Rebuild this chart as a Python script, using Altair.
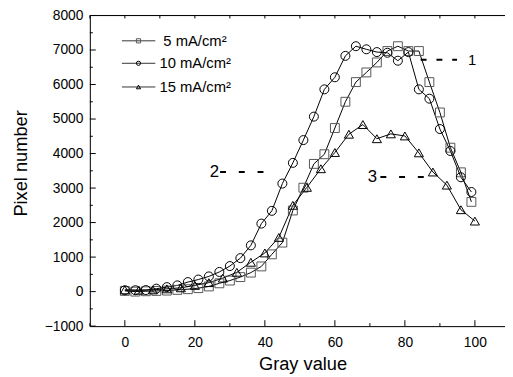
import altair as alt
import pandas as pd

FONT = "Liberation Sans"

# ---- data ----
series_names = ["5 mA/cm²", "10 mA/cm²", "15 mA/cm²"]

gray_sq = list(range(0, 100, 3))   # 5 mA/cm2 markers
ma5 = [20, 0, 10, 20, 30, 50, 70, 100, 150, 240, 320, 420, 550, 730, 1080, 1420,
       2350, 3010, 3700, 3980, 4740, 5500, 6070, 6350, 6640, 6970, 7110, 6970,
       6970, 6070, 5190, 4170, 3456, 2600]

gray_ci = list(range(0, 100, 3))   # 10 mA/cm2 markers
ma10 = [40, 40, 45, 85, 130, 180, 276, 350, 440, 570, 740, 970, 1340, 1970, 2340,
        3130, 3730, 4390, 5070, 5860, 6210, 6830, 7110, 7020, 6940, 6920, 6690,
        6940, 5860, 5590, 4710, 4074, 3313, 2886]

gray_tr = list(range(0, 101, 4))   # 15 mA/cm2 markers
ma15 = [50, 40, 50, 80, 110, 180, 260, 390, 560, 850, 1120, 1570, 2500, 3020,
        3560, 4030, 4560, 4840, 4430, 4570, 4510, 4020, 3465, 3085, 2373, 2043]

# legend rows (in data units)
legend_v = [7266, 6615, 5929]
legend_text_g = [11.0, 9.9, 9.9]

# annotations "1", "2", "3"
ann_labels = ["1", "2", "3"]
ann_text_g = [99.2, 25.6, 70.7]
ann_v = [6715, 3464, 3322]
ann_rule_g1 = [84.5, 27.2, 73.0]
ann_rule_g2 = [94.9, 40.4, 85.8]
ann_size = [15, 17, 17]

x_ticks_major = [0, 20, 40, 60, 80, 100]
y_ticks_major = list(range(-1000, 8001, 1000))

# ---- tables ----
rows = []
for name, gs, vs in [(series_names[0], gray_sq, ma5),
                     (series_names[1], gray_ci, ma10),
                     (series_names[2], gray_tr, ma15)]:
    for g, v in zip(gs, vs):
        rows.append({"series": name, "g": g, "v": v})
df = pd.DataFrame(rows)

leg = pd.DataFrame({
    "series": series_names,
    "v": legend_v,
    "g": [-0.85] * 3,
    "g2": [8.7] * 3,
    "gm": [3.9] * 3,
    "gt": legend_text_g,
})

ann = pd.DataFrame({
    "label": ann_labels, "gt": ann_text_g, "v": ann_v,
    "g": ann_rule_g1, "g2": ann_rule_g2, "fs": ann_size,
})

# inward ticks
tick_rows = []
for g in range(-10, 101, 10):
    major = g % 20 == 0
    L = 6 if major else 3
    tick_rows.append({"g": g, "v": -1000, "v2": -1000 + L / 35.0 * 1000, "g2": g})
    tick_rows.append({"g": g, "v": 8000, "v2": 8000 - 3 / 35.0 * 1000, "g2": g})
for v in range(-1000, 8001, 500):
    major = v % 1000 == 0
    L = 6 if major else 3
    tick_rows.append({"g": -10, "g2": -10 + L / 3.549, "v": v, "v2": v})
ticks = pd.DataFrame(tick_rows)

xs = alt.Scale(domain=[-10, 108.6], nice=False, zero=False)
ys = alt.Scale(domain=[-1000, 8000], nice=False, zero=False)

xaxis = alt.Axis(values=x_ticks_major, ticks=False, grid=False, domain=True,
                 domainColor="#000", domainWidth=1, labelFont=FONT, labelFontSize=14,
                 labelColor="#000", labelPadding=10, title="Gray value",
                 titleFont=FONT, titleFontSize=18.5, titleFontWeight="normal",
                 titleColor="#000", titleX=215.7, titleY=43.7,
                 titleBaseline="alphabetic", titleAlign="center")
yaxis = alt.Axis(values=y_ticks_major, ticks=False, grid=False, domain=True,
                 domainColor="#000", domainWidth=1, format="d", labelFont=FONT,
                 labelFontSize=14, labelColor="#000", labelPadding=7,
                 title="Pixel number", titleFont=FONT, titleFontSize=18.5,
                 titleFontWeight="normal", titleColor="#000", titleAngle=270,
                 titleX=-70.5, titleY=149.5, titleBaseline="middle",
                 titleAlign="center")

X = alt.X("g:Q", scale=xs, axis=xaxis)
Y = alt.Y("v:Q", scale=ys, axis=yaxis)

shape_scale = alt.Scale(domain=series_names, range=["square", "circle", "triangle-up"])
stroke_scale = alt.Scale(domain=series_names, range=["#555555", "#000000", "#000000"])
size_scale = alt.Scale(domain=series_names, range=[81, 85, 110])

lines = alt.Chart(df).mark_line(color="#000", strokeWidth=1).encode(
    x=X, y=Y, detail="series:N")

points = alt.Chart(df).mark_point(filled=False, strokeWidth=1, opacity=1).encode(
    x=X, y=Y,
    shape=alt.Shape("series:N", scale=shape_scale, legend=None),
    stroke=alt.Stroke("series:N", scale=stroke_scale, legend=None),
    size=alt.Size("series:N", scale=size_scale, legend=None),
)

leg_lines = alt.Chart(leg).mark_rule(color="#333", strokeWidth=1).encode(
    x=X, x2="g2:Q", y=Y)
leg_pts = alt.Chart(leg).mark_point(filled=False, strokeWidth=1, size=18, opacity=1).encode(
    x=alt.X("gm:Q", scale=xs, axis=xaxis), y=Y,
    shape=alt.Shape("series:N", scale=shape_scale, legend=None),
    stroke=alt.Stroke("series:N", scale=stroke_scale, legend=None),
)
leg_text = alt.Chart(leg).mark_text(align="left", baseline="middle", font=FONT,
                                    fontSize=15, color="#000").encode(
    x=alt.X("gt:Q", scale=xs, axis=xaxis), y=Y, text="series:N")

ann_base = alt.Chart(ann)
ann_rule_1 = ann_base.transform_filter(alt.datum.label == "1").mark_rule(
    color="#000", strokeWidth=2, strokeDash=[6, 10]).encode(x=X, x2="g2:Q", y=Y)
ann_rule_23 = ann_base.transform_filter(alt.datum.label != "1").mark_rule(
    color="#000", strokeWidth=2, strokeDash=[6, 13]).encode(x=X, x2="g2:Q", y=Y)
ann_text = ann_base.mark_text(align="center", baseline="middle", font=FONT,
                              color="#000").encode(
    x=alt.X("gt:Q", scale=xs, axis=xaxis), y=Y, text="label:N",
    size=alt.Size("fs:Q", scale=None, legend=None))

tick_marks = alt.Chart(ticks).mark_rule(color="#000", strokeWidth=1).encode(
    x=X, x2="g2:Q", y=Y, y2="v2:Q")

top_line = alt.Chart(pd.DataFrame({"v": [8000]})).mark_rule(
    color="#000", strokeWidth=1).encode(y=Y)

chart = alt.layer(
    tick_marks, top_line, lines, points, leg_lines, leg_pts, leg_text,
    ann_rule_1, ann_rule_23, ann_text,
).properties(
    width=421, height=315,
    padding={"left": 83, "top": 5, "right": 0, "bottom": 49},
    autosize=alt.AutoSizeParams(type="none"),
).configure_view(stroke=None).configure(background="#ffffff")

chart.save("out.html", embed_options={"renderer": "svg", "actions": False})
